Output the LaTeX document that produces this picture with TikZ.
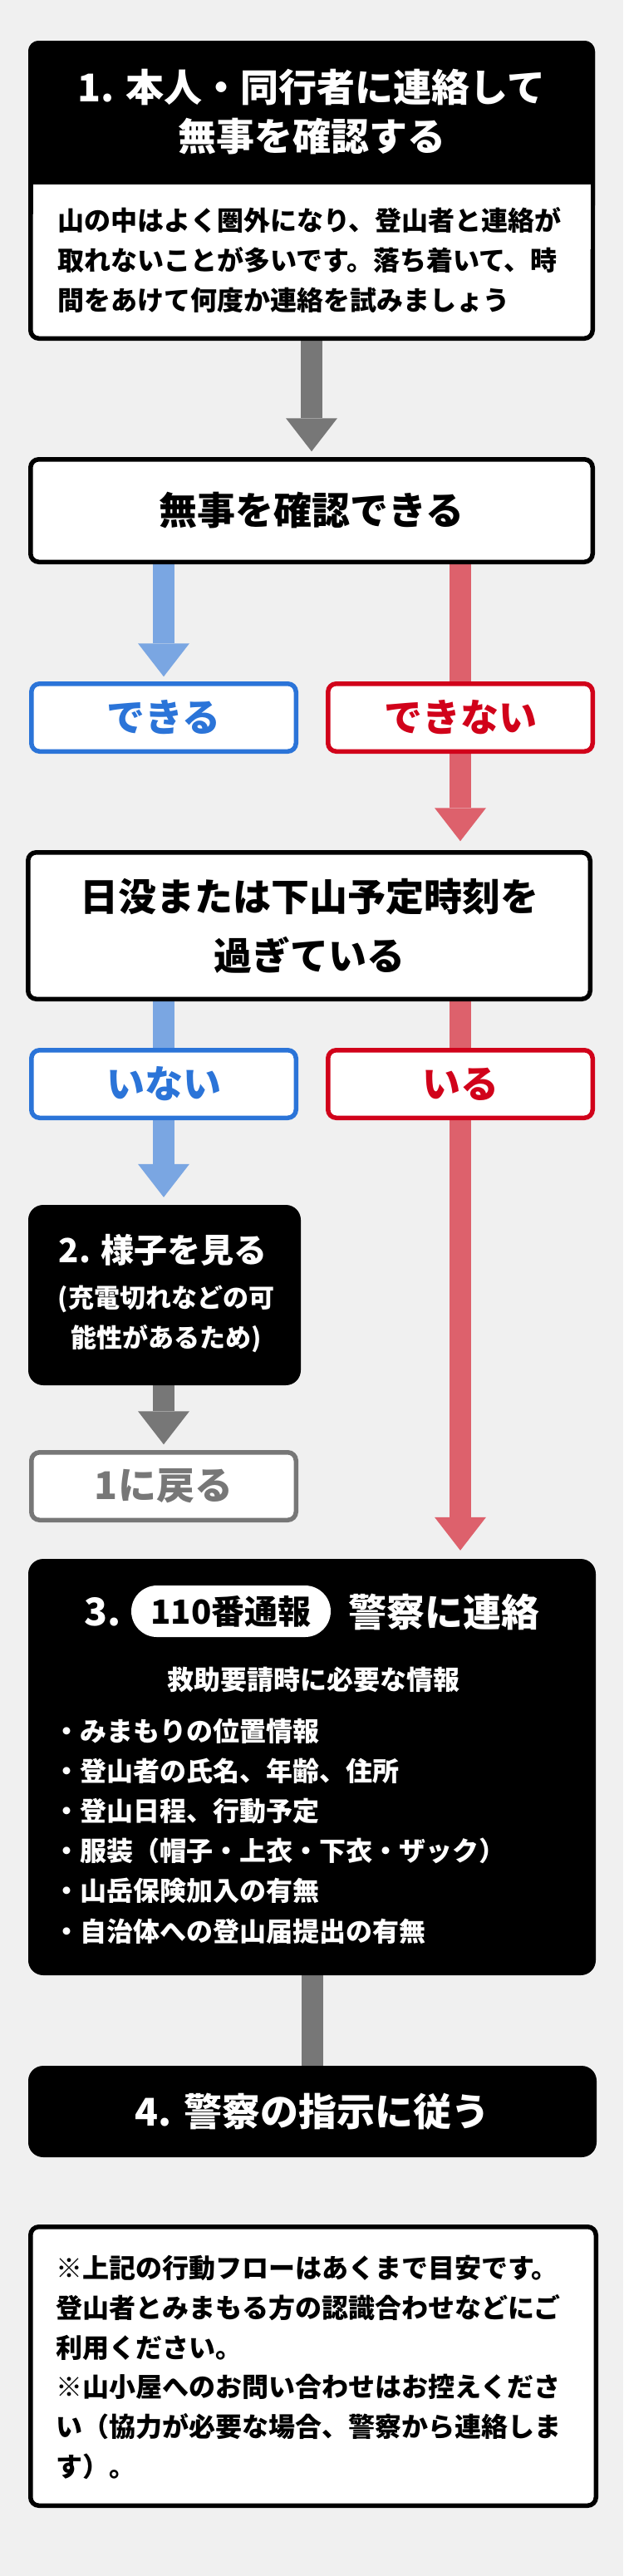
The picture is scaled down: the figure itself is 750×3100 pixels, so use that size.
\documentclass[tikz,border=0pt]{standalone}
\usepackage{fontspec}
\setmainfont{Noto Sans CJK JP}
\usetikzlibrary{arrows.meta,backgrounds,calc}
\definecolor{bg}{HTML}{F0F0F0}
\definecolor{blueL}{HTML}{7AA6E2}
\definecolor{blueD}{HTML}{2B74D8}
\definecolor{redL}{HTML}{DD616C}
\definecolor{redD}{HTML}{D1021A}
\definecolor{grayA}{HTML}{777777}
\begin{document}
\begin{tikzpicture}[x=1pt,y=-1pt,
  obox/.style={draw=black, line width=5.5pt, fill=white, rounded corners=10pt, inner sep=0pt},
  bbox/.style={fill=black, rounded corners=18pt, inner sep=0pt},
  big/.style={font=\bfseries\fontsize{46}{59}\selectfont},
  mid/.style={font=\bfseries\fontsize{40}{48}\selectfont},
  small/.style={font=\bfseries\fontsize{32}{48}\selectfont},
  txt/.style={inner sep=0pt},
  fat/.style={line width=26pt},
  fathead/.style={-{Triangle[width=62pt,length=40pt,line width=0pt]}}
]
\useasboundingbox (0,0) rectangle (750,3100);

% box 1
\node[obox, minimum width=676.5pt, minimum height=355.5pt] (b1) at (375,229.5) {};
\fill[black, rounded corners=12.75pt] (34,49) rectangle (716,260);
\fill[white] (39.5,222) rectangle (710.5,300);
\node[txt, big, white, align=center] (b1title) at (375,134.5) {1. 本人・同行者に連絡して\\無事を確認する};
\node[txt, small, anchor=west, align=left] (b1body) at (69,313.5) {山の中はよく圏外になり、登山者と連絡が\\取れないことが多いです。落ち着いて、時\\間をあけて何度か連絡を試みましょう};

% decision 1
\node[obox, big, minimum width=676.5pt, minimum height=123.5pt] (ok) at (375,614.5) {無事を確認できる};
\node[obox, draw=blueD, big, text=blueD, minimum width=318.5pt, minimum height=81.5pt] (dekiru) at (197,863.5) {できる};
\node[obox, draw=redD, big, text=redD, minimum width=318.5pt, minimum height=81.5pt] (dekinai) at (554,863.5) {できない};

% decision 2
\node[obox, minimum width=676.5pt, minimum height=176.5pt, big, align=center, font=\bfseries\fontsize{46}{71}\selectfont] (sun) at (372,1114) {日没または下山予定時刻を\\過ぎている};
\node[obox, draw=blueD, big, text=blueD, minimum width=318.5pt, minimum height=81.5pt] (inai) at (197,1304.5) {いない};
\node[obox, draw=redD, big, text=redD, minimum width=318.5pt, minimum height=81.5pt] (iru) at (554,1304.5) {いる};

% step 2
\node[bbox, minimum width=328pt, minimum height=217pt] (step2) at (198,1558.5) {};
\node[txt, mid, white] (s2title) at (196,1504) {2. 様子を見る};
\node[txt, white, align=center, font=\bfseries\fontsize{31}{48}\selectfont] (s2sub) at (200,1587) {(充電切れなどの可\\能性があるため)};

\node[obox, draw=grayA, big, text=grayA, minimum width=318.5pt, minimum height=81.5pt] (back) at (197,1788.5) {1に戻る};

% step 3
\node[bbox, minimum width=683pt, minimum height=501pt] (step3) at (375.5,2126.5) {};
\node[txt, big, white] (s3num) at (124,1940) {3.};
\node[fill=white, rounded corners=31pt, minimum width=240pt, minimum height=62pt, inner sep=0pt, mid] (pill) at (278,1939) {110番通報};
\node[txt, big, white, anchor=west] (s3title) at (419,1940) {警察に連絡};
\node[txt, white, font=\bfseries\fontsize{32}{40}\selectfont] (s3sub) at (377,2021) {救助要請時に必要な情報};
\node[txt, white, anchor=west, align=left, font=\bfseries\fontsize{32}{48.2}\selectfont] (s3list) at (64,2203.5) {・みまもりの位置情報\\・登山者の氏名、年齢、住所\\・登山日程、行動予定\\・服装（帽子・上衣・下衣・ザック）\\・山岳保険加入の有無\\・自治体への登山届提出の有無};

% step 4
\node[bbox, big, text=white, minimum width=684pt, minimum height=110pt] (step4) at (376,2541) {4. 警察の指示に従う};

% note
\node[obox, minimum width=680.5pt, minimum height=335.5pt] (note) at (377,2847.5) {};
\node[txt, anchor=west, align=left, font=\bfseries\fontsize{32}{47.7}\selectfont] (notetext) at (67,2849) {※上記の行動フローはあくまで目安です。\\登山者とみまもる方の認識合わせなどにご\\利用ください。\\※山小屋へのお問い合わせはお控えくださ\\い（協力が必要な場合、警察から連絡しま\\す）。};

\begin{pgfonlayer}{background}
\fill[bg] (0,0) rectangle (750,3100);
\draw[fat, grayA, fathead, shorten >=6.75pt] (b1.south) -- (ok.north);
\draw[fat, blueL, fathead, shorten >=5.75pt] (ok.south -| dekiru.north) -- (dekiru.north);
\draw[fat, redL] (ok.south -| dekinai.north) -- (dekinai.north);
\draw[fat, redL, fathead, shorten >=10.75pt] (dekinai.south) -- (dekinai.south |- sun.north);
\draw[fat, blueL] (sun.south -| inai.north) -- (inai.north);
\draw[fat, redL] (sun.south -| iru.north) -- (iru.north);
\draw[fat, blueL, fathead, shorten >=9pt] (inai.south) -- (inai.south |- step2.north);
\draw[fat, grayA, fathead, shorten >=6.75pt] (step2.south -| back.north) -- (back.north);
\draw[fat, redL, fathead, shorten >=10pt] (iru.south) -- (iru.south |- step3.north);
\draw[fat, grayA] (step3.south) -- (step3.south |- step4.north);
\end{pgfonlayer}
\end{tikzpicture}
\end{document}
